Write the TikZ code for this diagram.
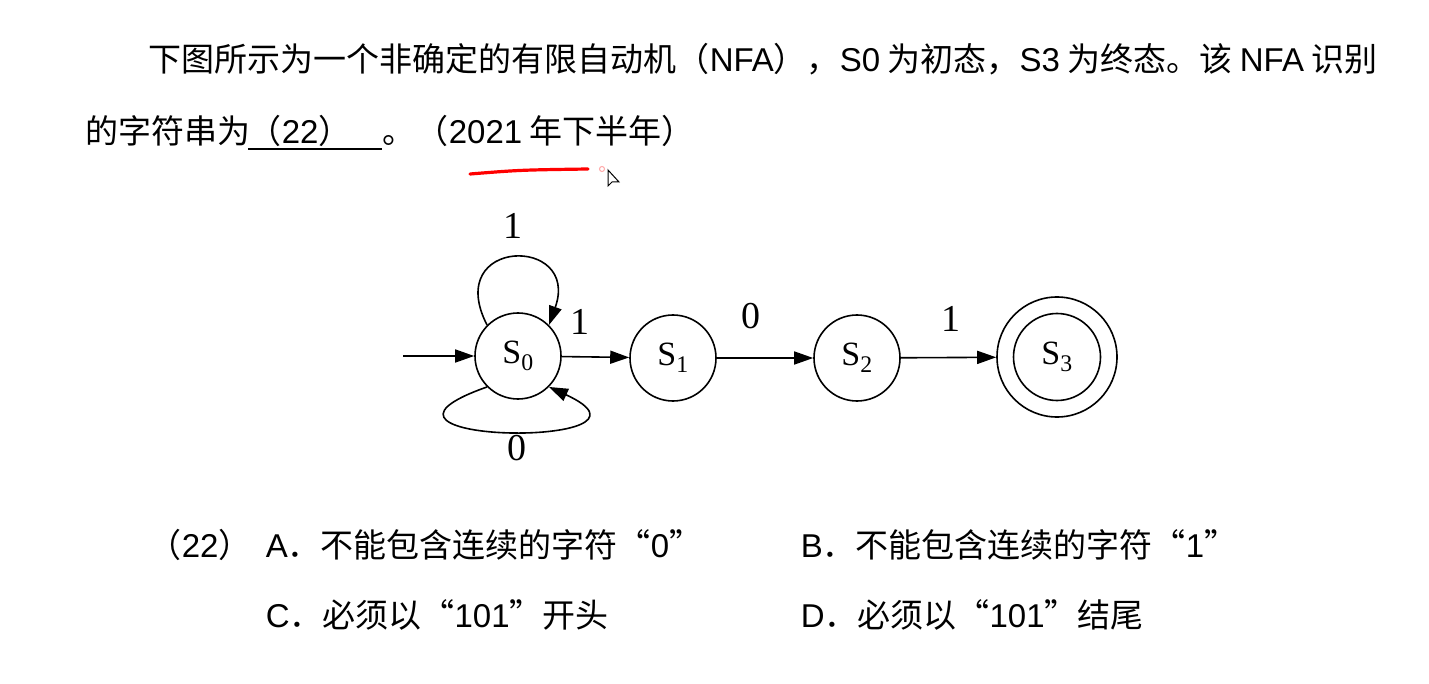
\documentclass[tikz,border=0pt]{standalone}
\usepackage{fontspec}
\setmainfont{Liberation Serif}
\newfontfamily\cjk{Noto Sans CJK SC}
\newfontfamily\arial{Liberation Sans}
\newcommand\en[1]{{\arial #1}}
\usetikzlibrary{arrows.meta}
\begin{document}
\begin{tikzpicture}[x=1pt, y=-1pt, line width=1.6pt,
    >={Triangle[length=19pt, width=13pt]},
    state/.style={circle, draw, minimum size=86pt, inner sep=0pt, font=\fontsize{34}{40}\selectfont},
    sym/.style={inner sep=0pt, font=\fontsize{38}{44}\selectfont},
    txt/.style={anchor=base west, inner sep=0pt, font=\cjk\fontsize{33}{38}\selectfont}]
    \fill[white] (0,0) rectangle (1429,684);
    \useasboundingbox (0,0) rectangle (1429,684);

    % Question text
    \node[txt] (q1) at (148,72) {下图所示为一个非确定的有限自动机（\en{NFA}），\en{S0} 为初态，\en{S3} 为终态。该 \en{NFA} 识别};
    \node[txt] (q2) at (85,144) {的字符串为};
    \node[txt] (blank) at (248,144) {（\en{22}）};
    \node[txt] (q3) at (382,144) {。（\en{2021} 年下半年）};
    \draw[line width=2.4pt] (248,149) -- (382,149);

    % Pen mark and cursor
    \draw[red, line width=3.2pt, line cap=round] (470,174) .. controls (520,170) .. (588,169);
    \draw[red!35, line width=1pt] (602,169) circle (2.5pt);
    \draw[line width=1pt, fill=white] (608,170) -- (608,186) -- (612,182) -- (619,182) -- cycle;

    % States
    \node[state] (S0) at (518,356) {S\textsubscript{0}};
    \node[state] (S1) at (673,358) {S\textsubscript{1}};
    \node[state] (S2) at (857,358) {S\textsubscript{2}};
    \node[state, minimum size=120pt] (S3) at (1057,357) {};
    \node[state, minimum size=87pt] (S3in) at (S3) {S\textsubscript{3}};
    \coordinate (start) at (403,356);

    % Transitions
    \draw[->] (start) -- (S0);
    \draw[->] (S0) -- node[sym, pos=0.27, above=22pt] {1} (S1);
    \draw[->] (S1) -- node[sym, pos=0.35, above=28pt] {0} (S2);
    \draw[->] (S2) -- node[sym, pos=0.53, above=25pt] {1} (S3);

    % Self loops on S0
    \draw[->] (S0.135) .. controls +(-45,-88) and +(32,-90) .. node[sym, above=19pt] {1} (S0.45);
    \draw[->] (S0.225) .. controls +(-165,58) and +(135,62) .. node[sym, below=2pt, xshift=10pt] {0} (S0.-45);

    % Options
    \node[txt] (opt) at (148,557) {（\en{22}）};
    \node[txt] (optA) at (265,557) {\en{A}．不能包含连续的字符“\en{0}”};
    \node[txt] (optB) at (800,557) {\en{B}．不能包含连续的字符“\en{1}”};
    \node[txt] (optC) at (265,627) {\en{C}．必须以“\en{101}”开头};
    \node[txt] (optD) at (800,627) {\en{D}．必须以“\en{101}”结尾};
\end{tikzpicture}
\end{document}
